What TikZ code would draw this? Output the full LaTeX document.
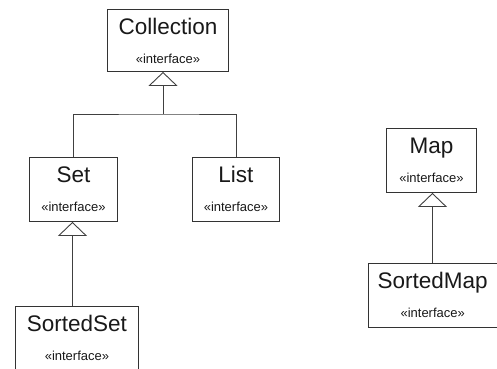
\documentclass[tikz,border=0pt]{standalone}
\usepackage{fontspec}
\setmainfont{Liberation Sans}
\usetikzlibrary{arrows.meta}
\begin{document}
\begin{tikzpicture}[x=1pt,y=-1pt,
  ibox/.style={draw=black!80,line width=0.9pt,fill=white,inner sep=0pt,anchor=north west},
  ttl/.style={font=\fontsize{22.5}{24}\selectfont,anchor=base,inner sep=0pt,text=black!90},
  ster/.style={font=\fontsize{13}{14}\selectfont,anchor=base,inner sep=0pt,text=black!90},
  conn/.style={draw=black!75,line width=0.9pt},
  gen/.style={conn,-{Triangle[open,length=14pt,width=29pt,line width=0.9pt]}}]
\useasboundingbox (0,0) rectangle (497,368);
\clip (0,0) rectangle (497,368);
% boxes
\node[ibox,minimum width=121pt,minimum height=62pt] (coll) at (107,9) {};
\node[ibox,minimum width=88pt,minimum height=64pt] (set) at (29,157) {};
\node[ibox,minimum width=87pt,minimum height=64pt] (list) at (192,157) {};
\node[ibox,minimum width=123pt,minimum height=70pt] (sset) at (15,306) {};
\node[ibox,minimum width=90pt,minimum height=64pt] (map) at (386,128) {};
\node[ibox,minimum width=128.5pt,minimum height=64pt] (smap) at (368,263) {};
% texts
\foreach \n/\t in {coll/Collection,set/Set,list/List,sset/SortedSet,map/Map,smap/SortedMap}{
  \node[ttl] (\n-t) at ([yshift=-25.5pt]\n.north) {\t};
  \node[ster] (\n-s) at ([yshift=-54pt]\n.north) {«interface»};
}
% connectors
\coordinate (j) at (163,114);
\draw[gen] (j) -- (j |- coll.south);
\draw[conn] (set.north) -- (set.north |- j) -- (j) -- (list.north |- j) -- (list.north);
\draw[gen] ([xshift=-1pt]set.south |- sset.north) -- ([xshift=-1pt]set.south);
\draw[gen] ([xshift=1pt]map.south |- smap.north) -- ([xshift=1pt]map.south);
\end{tikzpicture}
\end{document}
